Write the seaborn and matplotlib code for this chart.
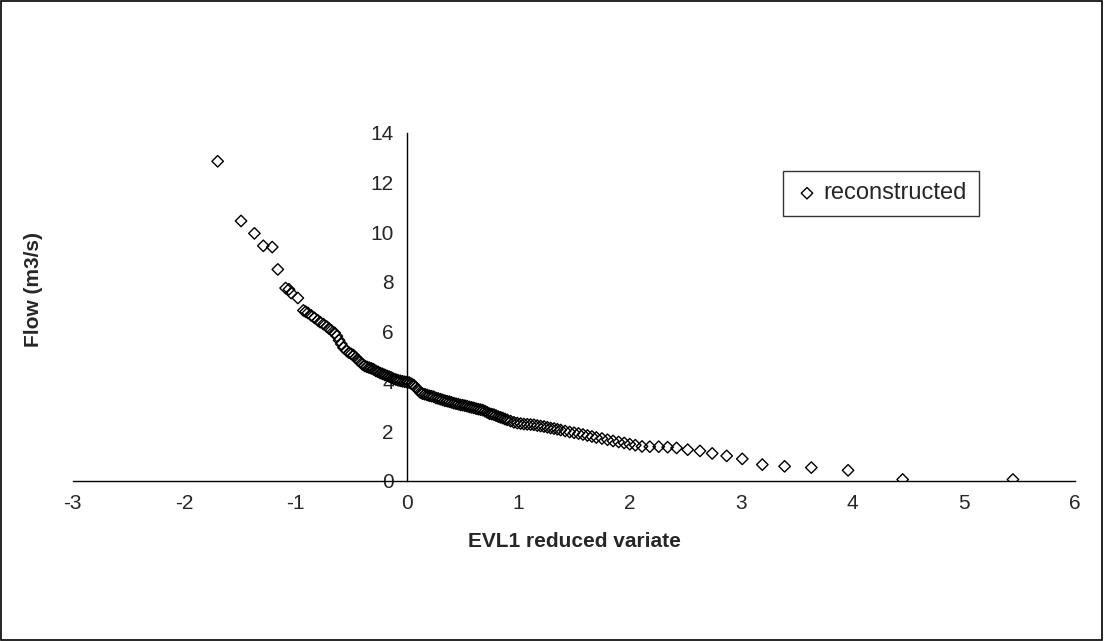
import matplotlib
matplotlib.use("Agg")
import matplotlib.pyplot as plt
import seaborn as sns
import pandas as pd
from matplotlib.patches import Rectangle

x_vals = [-1.70, -1.49, -1.37, -1.29, -1.21, -1.16, -1.09, -1.06, -1.04, -0.98, -0.93, -0.91, -0.89,
          -0.86, -0.83, -0.80, -0.78, -0.75, -0.72, -0.70, -0.68, -0.65, -0.63, -0.61, -0.59, -0.57,
          -0.54, -0.52, -0.50, -0.48, -0.46, -0.44, -0.42, -0.40, -0.38, -0.36, -0.34, -0.32, -0.30,
          -0.28, -0.26, -0.24, -0.22, -0.20, -0.18, -0.16, -0.14, -0.12, -0.10, -0.08, -0.06, -0.04,
          -0.02, 0.00, 0.02, 0.04, 0.06, 0.08, 0.10, 0.12, 0.14, 0.16, 0.18, 0.20, 0.22, 0.24, 0.26,
          0.28, 0.30, 0.32, 0.34, 0.36, 0.38, 0.40, 0.42, 0.44, 0.46, 0.48, 0.50, 0.52, 0.54, 0.56,
          0.58, 0.60, 0.62, 0.64, 0.66, 0.68, 0.70, 0.72, 0.74, 0.76, 0.78, 0.80, 0.82, 0.84, 0.86,
          0.88, 0.90, 0.93, 0.96, 0.99, 1.02, 1.05, 1.08, 1.11, 1.14, 1.17, 1.20, 1.23, 1.26, 1.29,
          1.32, 1.35, 1.38, 1.42, 1.46, 1.50, 1.54, 1.58, 1.62, 1.66, 1.70, 1.75, 1.80, 1.85, 1.90,
          1.95, 2.00, 2.05, 2.11, 2.18, 2.26, 2.34, 2.42, 2.52, 2.63, 2.74, 2.87, 3.01, 3.19, 3.39,
          3.63, 3.96, 4.45, 5.44]
flow = [12.85, 10.45, 9.95, 9.45, 9.40, 8.50, 7.75, 7.70, 7.55, 7.35, 6.85, 6.80, 6.75,
        6.65, 6.55, 6.45, 6.38, 6.30, 6.20, 6.12, 6.05, 5.95, 5.82, 5.65, 5.50, 5.35,
        5.22, 5.15, 5.10, 5.05, 4.95, 4.85, 4.78, 4.68, 4.62, 4.58, 4.55, 4.52, 4.48,
        4.42, 4.38, 4.33, 4.30, 4.26, 4.22, 4.19, 4.15, 4.10, 4.07, 4.04, 4.02, 4.00,
        3.98, 3.97, 3.95, 3.90, 3.85, 3.75, 3.65, 3.55, 3.50, 3.48, 3.45, 3.42, 3.40, 3.38, 3.33,
        3.31, 3.28, 3.25, 3.22, 3.20, 3.18, 3.15, 3.12, 3.10, 3.08, 3.05, 3.04, 3.02, 3.00, 2.97,
        2.95, 2.93, 2.90, 2.88, 2.86, 2.84, 2.80, 2.75, 2.70, 2.68, 2.66, 2.62, 2.58, 2.55, 2.52,
        2.48, 2.45, 2.40, 2.35, 2.32, 2.30, 2.28, 2.27, 2.26, 2.25, 2.22, 2.20, 2.18, 2.15, 2.12,
        2.10, 2.07, 2.04, 2.00, 1.96, 1.93, 1.90, 1.86, 1.82, 1.78, 1.74, 1.70, 1.65, 1.60, 1.56,
        1.52, 1.47, 1.43, 1.38, 1.37, 1.37, 1.35, 1.32, 1.25, 1.20, 1.10, 1.00, 0.88, 0.65, 0.58,
        0.53, 0.42, 0.05, 0.05]

df = pd.DataFrame({"x": x_vals, "flow": flow})

sns.set_style("white")
plt.rcParams["font.family"] = ["Liberation Sans", "DejaVu Sans"]

fig = plt.figure(figsize=(11.04, 6.41), dpi=100)
ax = fig.add_axes([0.066, 0.25, 0.908, 0.543])
sns.scatterplot(data=df, x="x", y="flow", marker="D", s=34,
                facecolors="none", edgecolors="black", linewidth=1.0, ax=ax,
                label="reconstructed")

ax.set_xlim(-3, 6)
ax.set_ylim(0, 14)
ax.set_xticks(range(-3, 7))
ax.set_yticks(range(0, 15, 2))
ax.set_xticklabels([str(v) for v in range(-3, 7)])
ax.spines["left"].set_position(("data", 0))
ax.spines["top"].set_visible(False)
ax.spines["right"].set_visible(False)
for s in ("left", "bottom"):
    ax.spines[s].set_color("black")
    ax.spines[s].set_linewidth(1.0)
ax.tick_params(axis="both", direction="out", length=6, width=1, color="black", labelsize=15)
ax.set_xlabel("EVL1 reduced variate", fontsize=15, fontweight="bold", labelpad=14)
ax.set_ylabel("")
fig.text(0.03, 0.548, "Flow (m3/s)", rotation=90, fontsize=15, fontweight="bold",
         ha="center", va="center")
leg = ax.legend(loc="upper left", bbox_to_anchor=(0.697, 0.925), frameon=True, fancybox=False,
                edgecolor="black", fontsize=17, handletextpad=0.2, borderpad=0.5, handlelength=1.0)
leg.get_frame().set_linewidth(1.0)

fig.patches.append(Rectangle((0.001, 0.001), 0.997, 0.997, transform=fig.transFigure,
                             fill=False, edgecolor="black", linewidth=1.2))
fig.savefig("out.png", dpi=100)
